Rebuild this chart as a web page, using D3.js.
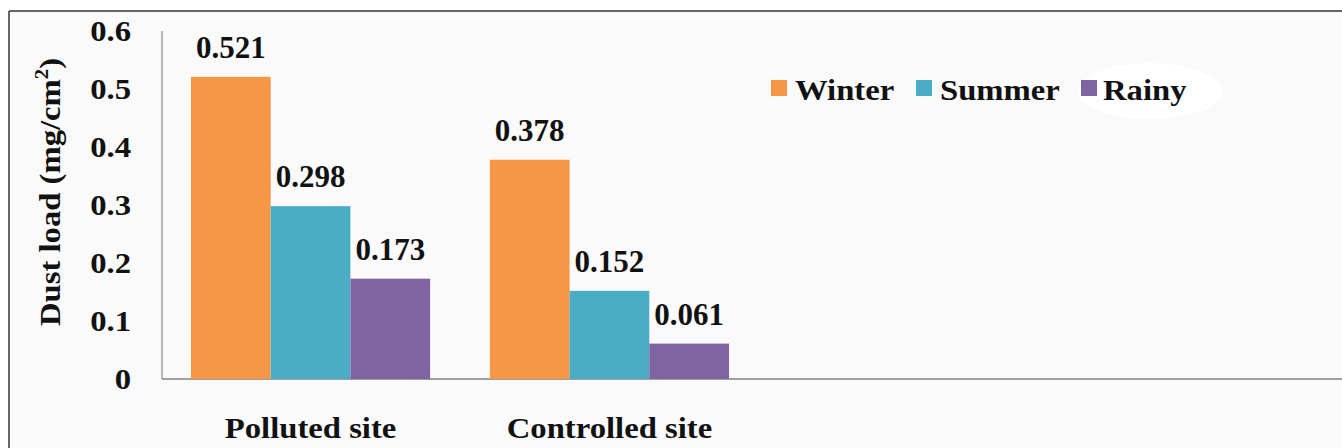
<!DOCTYPE html>
<html><head><meta charset="utf-8">
<script src="https://cdn.jsdelivr.net/npm/d3@7"></script>
<style>body{margin:0;background:#fff;} svg{display:block;}</style>
</head><body>
<svg id="c" width="1342" height="448"></svg>
<script>
const categories = ["Polluted site", "Controlled site"];
const seriesNames = ["Winter", "Summer", "Rainy"];
const winter = [0.521, 0.378];
const summer = [0.298, 0.152];
const rainy = [0.173, 0.061];
const valueLabels = [["0.521","0.298","0.173"],["0.378","0.152","0.061"]];
const yTicks = [0, 0.1, 0.2, 0.3, 0.4, 0.5, 0.6];
const yTickLabels = ["0","0.1","0.2","0.3","0.4","0.5","0.6"];
const colors = ["#F79646", "#4BACC6", "#8064A2"];

const series = [winter, summer, rainy];
const svg = d3.select("#c");
const font = "Liberation Serif";
const SX = 1.09;

function txt(parent, x, y, s, size, anchor, extra) {
  return parent.append("text").attr("transform", `translate(${x},${y}) ${extra||""} scale(${SX},1)`)
    .attr("text-anchor", anchor).attr("font-family", font).attr("font-weight", "bold")
    .attr("font-size", size).attr("fill", "#111").text(s);
}

// frame & background
svg.append("rect").attr("x",9).attr("y",11).attr("width",1333).attr("height",437).attr("fill","#fafafa");
svg.append("ellipse").attr("cx",1150).attr("cy",91).attr("rx",72).attr("ry",28).attr("fill","#ffffff");
svg.append("line").attr("x1",9).attr("x2",1342).attr("y1",11).attr("y2",11).attr("stroke","#333").attr("stroke-width",1.5);
svg.append("line").attr("x1",9).attr("x2",9).attr("y1",11).attr("y2",448).attr("stroke","#333").attr("stroke-width",1.5);

const y = d3.scaleLinear().domain([0,0.6]).range([379,31]);
const x0 = d3.scaleBand().domain(categories).range([162,758]).paddingInner(0.2).paddingOuter(29/299);
const x1 = d3.scaleBand().domain(seriesNames).range([0, x0.bandwidth()]);

// axes lines
svg.append("line").attr("x1",162).attr("x2",1342).attr("y1",y(0)).attr("y2",y(0)).attr("stroke","#a0a0a0").attr("stroke-width",2);
svg.append("line").attr("x1",162).attr("x2",162).attr("y1",y(0.6)).attr("y2",y(0)).attr("stroke","#a0a0a0").attr("stroke-width",1.5);

// y tick labels
const tg = svg.append("g");
yTicks.forEach((d,i)=> txt(tg, 131, y(d)+10, yTickLabels[i], 30, "end"));

// bars
categories.forEach((c,ci)=>{
  const g = svg.append("g").attr("transform",`translate(${x0(c)},0)`);
  seriesNames.forEach((s,si)=>{
    const v = series[si][ci];
    g.append("rect").attr("x",x1(s)).attr("y",y(v)).attr("width",x1.bandwidth()).attr("height",y(0)-y(v)).attr("fill",colors[si]);
    g.append("text").attr("x",x1(s)+x1.bandwidth()/2).attr("y",y(v)-19).attr("text-anchor","middle")
      .attr("font-family",font).attr("font-weight","bold").attr("font-size",31).attr("fill","#111")
      .text(valueLabels[ci][si]);
  });
  txt(svg, x0(c)+x0.bandwidth()/2, 438, c, 30, "middle");
});

// y title
svg.append("text").attr("transform",`translate(60,192) rotate(-90) scale(${SX},1)`).attr("text-anchor","middle")
  .attr("font-family",font).attr("font-weight","bold").attr("font-size",30).attr("fill","#111")
  .call(t=>{ t.append("tspan").text("Dust load (mg/cm"); t.append("tspan").attr("font-size",19).attr("dy",-12).text("2"); t.append("tspan").attr("dy",12).text(")"); });

// legend
const legX = [771, 916, 1081];
const legTX = [795, 940, 1103];
seriesNames.forEach((s,i)=>{
  svg.append("rect").attr("x",legX[i]).attr("y",80).attr("width",16).attr("height",16).attr("fill",colors[i]);
  txt(svg, legTX[i], 100, s, 30, "start");
});
</script>
</body></html>
